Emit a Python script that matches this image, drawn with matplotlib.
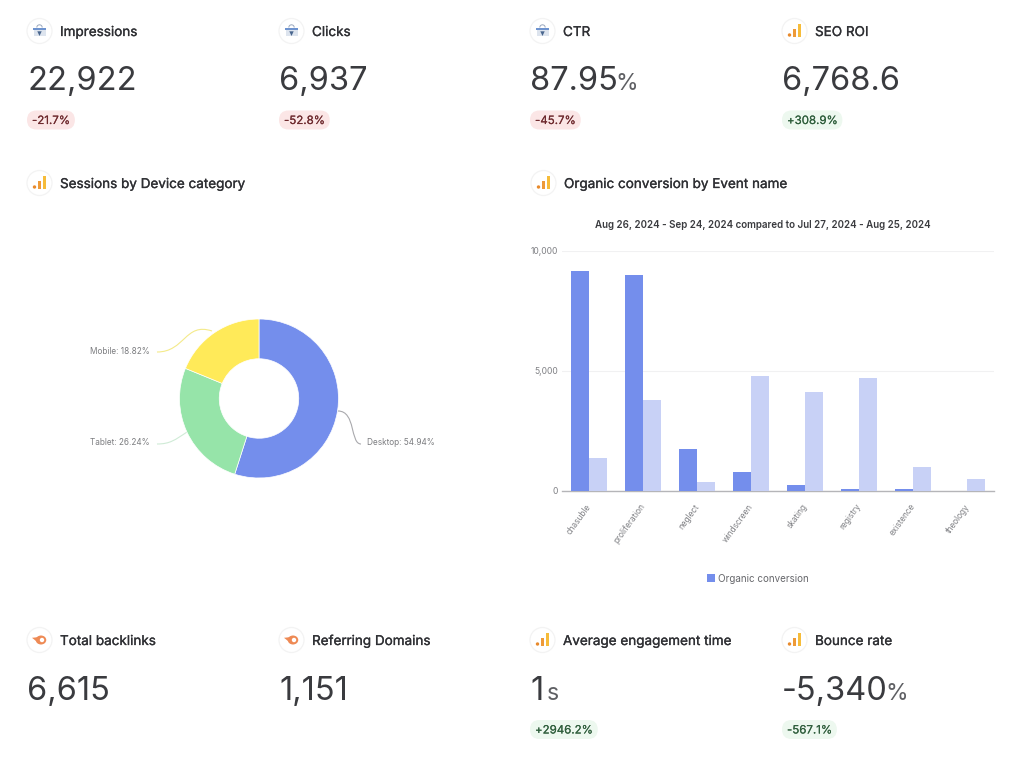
import matplotlib
matplotlib.use('Agg')
import matplotlib.pyplot as plt
import matplotlib.patheffects as pe
from matplotlib.patches import Circle, FancyBboxPatch, PathPatch, Rectangle, Polygon, Wedge, Ellipse
from matplotlib.path import Path
from matplotlib.transforms import ScaledTranslation

plt.rcParams['font.family'] = ['Inter', 'DejaVu Sans']

# KPI cards
kpi_titles = ['Impressions', 'Clicks', 'CTR', 'SEO ROI']
kpi_values = ['22,922', '6,937', '87.95', '6,768.6']
kpi_units = ['', '', '%', '']
kpi_changes = ['-21.7%', '-52.8%', '-45.7%', '+308.9%']
kpi_sources = ['gsc', 'gsc', 'gsc', 'ga']

bottom_titles = ['Total backlinks', 'Referring Domains', 'Average engagement time', 'Bounce rate']
bottom_values = ['6,615', '1,151', '1', '-5,340']
bottom_units = ['', '', 's', '%']
bottom_changes = ['', '', '+2946.2%', '-567.1%']
bottom_sources = ['semrush', 'semrush', 'ga', 'ga']

# donut
device_names = ['Desktop', 'Tablet', 'Mobile']
device_shares = [54.94, 26.24, 18.82]
device_colors = ['#748EEC', '#96E4A9', '#FFEA59']

# bars
events = ['chasuble', 'proliferation', 'neglect', 'windscreen', 'skating', 'registry', 'existence', 'theology']
current = [9155, 8990, 1760, 800, 235, 97, 70, 0]
previous = [1385, 3795, 360, 4765, 4130, 4680, 1010, 510]

W, H = 1024, 761
fig = plt.figure(figsize=(W / 100, H / 100), dpi=100, facecolor='white')

# overlay in pixel coordinates for the cards
page = fig.add_axes([0, 0, 1, 1])
page.set_xlim(0, W)
page.set_ylim(H, 0)
page.axis('off')

INK = '#2F3034'
RED_BG, RED_TX = '#FBE6E6', '#6E2A2E'
GREEN_BG, GREEN_TX = '#EDF8EF', '#2F5E3C'


def px(size):
    return size * 0.72


def icon(x, y, source):
    page.add_patch(Circle((x, y), 12.5, fc='white', ec='#F3F3F3', lw=0.9))
    if source == 'ga':
        page.add_patch(Rectangle((x + 3, y - 7), 3.6, 13, fc='#F6BC3A', ec='none'))
        page.add_patch(Rectangle((x - 2, y - 2), 3.8, 8, fc='#EE9A38', ec='none'))
        page.add_patch(Circle((x - 5, y + 4), 1.7, fc='#E88A2C', ec='none'))
    elif source == 'gsc':
        page.add_patch(Wedge((x, y - 3.5), 3.2, 180, 360, width=1, fc='#9AA8BE', ec='none'))
        page.add_patch(Rectangle((x - 6.5, y - 3.5), 13, 2.6, fc='#6E93CF', ec='none'))
        page.add_patch(Rectangle((x - 6, y - 0.9), 12, 5.9, fc='#DDE4EE', ec='none'))
        page.add_patch(Polygon([(x - 2.2, y + 0.3), (x + 2.2, y + 0.3), (x, y + 5)], fc='#4A678F', ec='none'))
    else:
        page.add_patch(Ellipse((x + 1.5, y), 10.5, 9, fc='#EE8A55', ec='none'))
        page.add_patch(Polygon([(x - 7.5, y - 2.2), (x, y - 3), (x, y + 2.5), (x - 3.5, y + 1)], fc='#EE8A55', ec='none'))
        page.add_patch(Circle((x + 2.5, y), 2.2, fc='white', ec='none'))


def title(x, y, text, source):
    icon(x + 12.5, y, source)
    page.text(x + 33, y - 0.5, text, fontsize=px(13.5), color=INK, va='center_baseline',
              path_effects=[pe.withStroke(linewidth=0.2, foreground=INK)])


def big_number(x, y, value, unit):
    t = page.text(x, y, value, fontsize=px(32.6), color='#3A3B3F', va='baseline')
    if unit:
        fig.canvas.draw()
        box = t.get_window_extent()
        gap = 4 if unit == 's' else -2
        page.text(box.x1 + gap, y, unit, fontsize=px(23), color='#5E5F63', va='baseline')


def pill(x, y, text):
    if not text:
        return
    up = text.startswith('+') or text == '-567.1%'
    bg, fg = (GREEN_BG, GREEN_TX) if up else (RED_BG, RED_TX)
    t = page.text(x + 5, y, text, fontsize=px(11.5), color=fg, va='center_baseline', zorder=3,
                  path_effects=[pe.withStroke(linewidth=0.1, foreground=fg)])
    fig.canvas.draw()
    w = t.get_window_extent().width + 10
    page.add_patch(FancyBboxPatch((x, y - 9.5), w, 19, boxstyle='round,pad=0,rounding_size=9.5', fc=bg, ec='none', zorder=2))


card_x = [27, 279, 530, 782]
for i in range(4):
    title(card_x[i], 31, kpi_titles[i], kpi_sources[i])
    big_number(card_x[i], 90.5, kpi_values[i], kpi_units[i])
    pill(card_x[i], 120, kpi_changes[i])
    title(card_x[i], 640, bottom_titles[i], bottom_sources[i])
    big_number(card_x[i], 700.5, bottom_values[i], bottom_units[i])
    pill(card_x[i], 729.5, bottom_changes[i])

title(27, 183, 'Sessions by Device category', 'ga')
title(531, 183, 'Organic conversion by Event name', 'ga')
page.text(763, 223.5, 'Aug 26, 2024 - Sep 24, 2024 compared to Jul 27, 2024 - Aug 25, 2024',
          fontsize=px(9.75), fontweight=600, color='#3A3B3F', ha='center', va='center_baseline')

# donut
cx, cy, r = 259, 398.5, 79.5
donut = fig.add_axes([(cx - r) / W, 1 - (cy + r) / H, 2 * r / W, 2 * r / H])
donut.pie(device_shares, colors=device_colors, startangle=90, counterclock=False, radius=1,
          wedgeprops={'width': 0.5, 'edgecolor': 'white', 'linewidth': 0.5})
donut.set_xlim(-1, 1)
donut.set_ylim(-1, 1)


def leader(p0, c1, c2, p1, color):
    page.add_patch(PathPatch(Path([p0, c1, c2, p1], [Path.MOVETO, Path.CURVE4, Path.CURVE4, Path.CURVE4]),
                             fc='none', ec=color, lw=0.8))


leader((338, 411), (356, 411), (350, 444), (361, 444), '#A9A9AD')
leader((187, 432), (175, 440), (170, 444), (157, 444), '#CFEBD6')
leader((212, 331), (185, 322), (185, 352), (157, 352), '#F4EA8A')
label_style = dict(fontsize=px(8.2), color='#7C7D80', va='center_baseline')
page.text(367, 441.5, f'{device_names[0]}: {device_shares[0]}%', ha='left', **label_style)
page.text(150, 441.5, f'{device_names[1]}: {device_shares[1]}%', ha='right', **label_style)
page.text(150, 350, f'{device_names[2]}: {device_shares[2]}%', ha='right', **label_style)

# bars
left, right, y0, y10k = 562, 994, 491, 250.5
ax = fig.add_axes([left / W, 1 - y0 / H, (right - left) / W, (y0 - y10k) / H])
ax.patch.set_alpha(0)
xs = list(range(len(events)))
ax.bar([x - 1 / 6 for x in xs], current, width=1 / 3, color='#748EEC', zorder=3)
ax.bar([x + 1 / 6 for x in xs], previous, width=1 / 3, color='#C8D1F6', zorder=3)
ax.set_xlim(-0.5, 7.5)
ax.set_ylim(0, 10000)
ax.set_yticks([0, 5000, 10000])
ax.set_yticklabels(['0', '5,000', '10,000'], fontsize=px(8.6), color='#808185')
ax.set_xticks(xs)
ax.set_xticklabels(events, fontsize=px(8.2), color='#808185', rotation=54, ha='right', rotation_mode='anchor')
ax.tick_params(axis='both', length=0)
ax.tick_params(axis='x', pad=8)
ax.tick_params(axis='y', pad=3)
# has to come after tick_params, which resets the label transforms
nudge = ScaledTranslation(-3 / 100, 0, fig.dpi_scale_trans)
for lab in ax.get_xticklabels():
    lab.set_transform(lab.get_transform() + nudge)
ax.grid(axis='y', color='#F1F1F2', lw=0.8, zorder=0)
for side in ['top', 'right', 'left']:
    ax.spines[side].set_visible(False)
ax.spines['bottom'].set_color('#B5B5B8')
ax.spines['bottom'].set_linewidth(1.0)

# legend
page.add_patch(Rectangle((706.5, 573.5), 8, 8, fc='#748EEC', ec='none'))
page.text(718.5, 577.5, 'Organic conversion', fontsize=px(9.85), color='#66676B', va='center_baseline')

fig.savefig('out.png', dpi=100)
